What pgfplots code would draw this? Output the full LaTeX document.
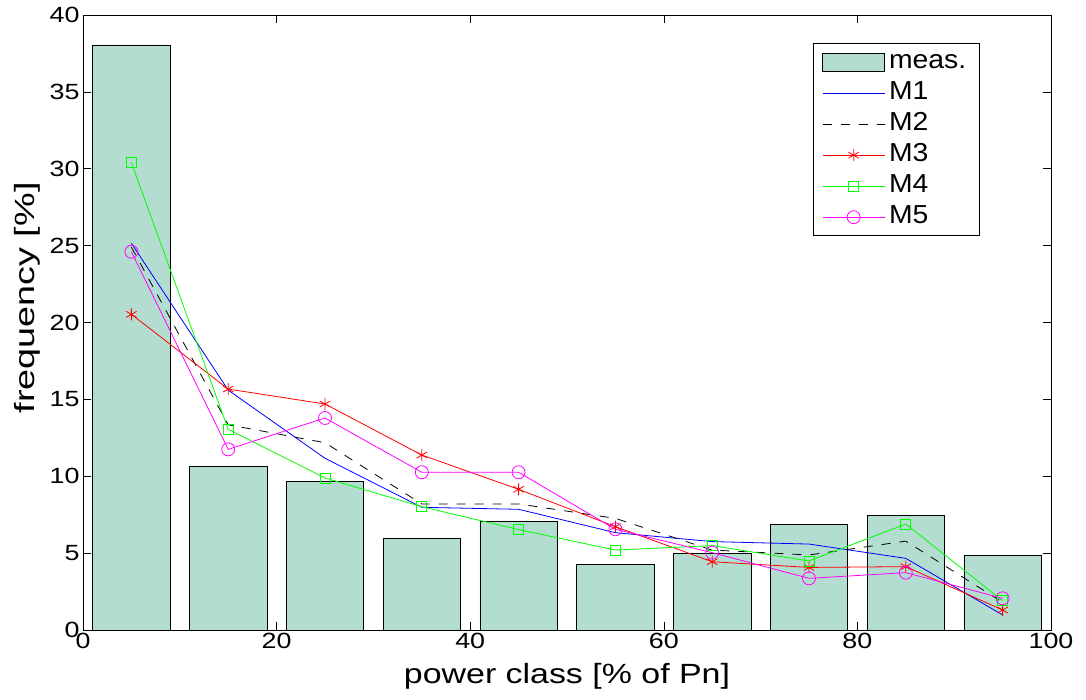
\documentclass[border=0pt]{standalone}
\usepackage{fontspec}
\setmainfont[FakeStretch=1.22]{Liberation Sans}
\newfontfamily\legfont[FakeStretch=1.09]{Liberation Sans}
\newfontfamily\ylabfont[FakeStretch=1.36]{Liberation Sans}
\usepackage{pgfplots}
\pgfplotsset{compat=1.18}
\definecolor{barc}{RGB}{179,221,209}
\definecolor{mgreen}{RGB}{0,255,0}
\definecolor{mmag}{RGB}{255,0,255}
\definecolor{mblue}{RGB}{0,0,255}
\definecolor{mred}{RGB}{255,0,0}
\pgfplotsset{
  barleg/.style={legend image code/.code={\draw[##1,draw=black] (0pt,-9pt) rectangle (62pt,9pt);}},
  lineleg/.style={legend image code/.code={\draw[mark repeat=2,mark phase=2,##1] plot coordinates {(0pt,0pt) (31pt,0pt) (62pt,0pt)};}},
}
\begin{document}
\begin{tikzpicture}[x=1pt,y=1pt]
\useasboundingbox (-83,-69) rectangle (1003,630);
\begin{axis}[at={(0,0)},anchor=south west,
  scale only axis, width=968pt, height=615pt,
  xmin=0,xmax=100,ymin=0,ymax=40,
  xtick={0,20,...,100}, ytick={0,5,...,40},
  tick align=inside, major tick length=8pt,
  tick style={black, line width=0.6pt},
  axis line style={line width=0.8pt},
  ticklabel style={font=\fontsize{22}{24}\selectfont},
  /pgf/number format/assume math mode=true,
  xlabel={power class [\% of Pn]}, ylabel={frequency [\%]},
  xlabel style={font=\fontsize{27.8}{30}\selectfont, at={(axis description cs:0.5,0)},anchor=base,yshift=-53pt},
  ylabel style={font=\ylabfont\fontsize{27.8}{30}\selectfont, at={(axis description cs:-0.0505,0.54)},anchor=base},
  legend style={at={(axis description cs:0.754,0.954)},anchor=north west,
    draw=black, line width=0.8pt, font=\legfont\fontsize{26}{28}\selectfont,
    nodes={inner ysep=2pt, inner xsep=4pt, text height=18pt, text depth=5pt},
    row sep=4pt, inner xsep=9pt, inner ysep=5pt},
  legend cell align=left,
  lineleg,
]
\addplot[ybar, bar width=8, bar shift=0pt, fill=barc, draw=black, line width=0.7pt, barleg] coordinates {
(5,38.05) (15,10.62) (25,9.69) (35,5.96) (45,7.07) (55,4.27) (65,5.01) (75,6.87) (85,7.44) (95,4.86)};
\addlegendentry{meas.}
\addplot[mblue, line width=0.8pt, no marks] coordinates {
(5,25.15) (15,15.6) (25,11.17) (35,7.98) (45,7.85) (55,6.33) (65,5.75) (75,5.59) (85,4.66) (95,0.98)};
\addlegendentry{M1}
\addplot[black, line width=0.8pt, dash pattern=on 9pt off 9pt, no marks] coordinates {
(5,24.9) (15,13.35) (25,12.18) (35,8.2) (45,8.2) (55,7.26) (65,5.2) (75,4.88) (85,5.78) (95,1.8)};
\addlegendentry{M2}
\addplot[mred, line width=0.8pt, mark=asterisk, mark size=6pt, mark options={solid, line width=0.8pt}] coordinates {
(5,20.53) (15,15.67) (25,14.7) (35,11.38) (45,9.15) (55,6.72) (65,4.44) (75,4.07) (85,4.12) (95,1.3)};
\addlegendentry{M3}
\addplot[mgreen, line width=0.8pt, mark=square, mark size=5pt, mark options={solid, line width=0.8pt}] coordinates {
(5,30.4) (15,13.05) (25,9.89) (35,8.02) (45,6.53) (55,5.2) (65,5.49) (75,4.49) (85,6.89) (95,1.9)};
\addlegendentry{M4}
\addplot[mmag, line width=0.8pt, mark=o, mark size=6.5pt, mark options={solid, line width=0.8pt}] coordinates {
(5,24.6) (15,11.75) (25,13.79) (35,10.26) (45,10.26) (55,6.55) (65,5.03) (75,3.36) (85,3.73) (95,2.06)};
\addlegendentry{M5}
\end{axis}
\end{tikzpicture}
\end{document}
